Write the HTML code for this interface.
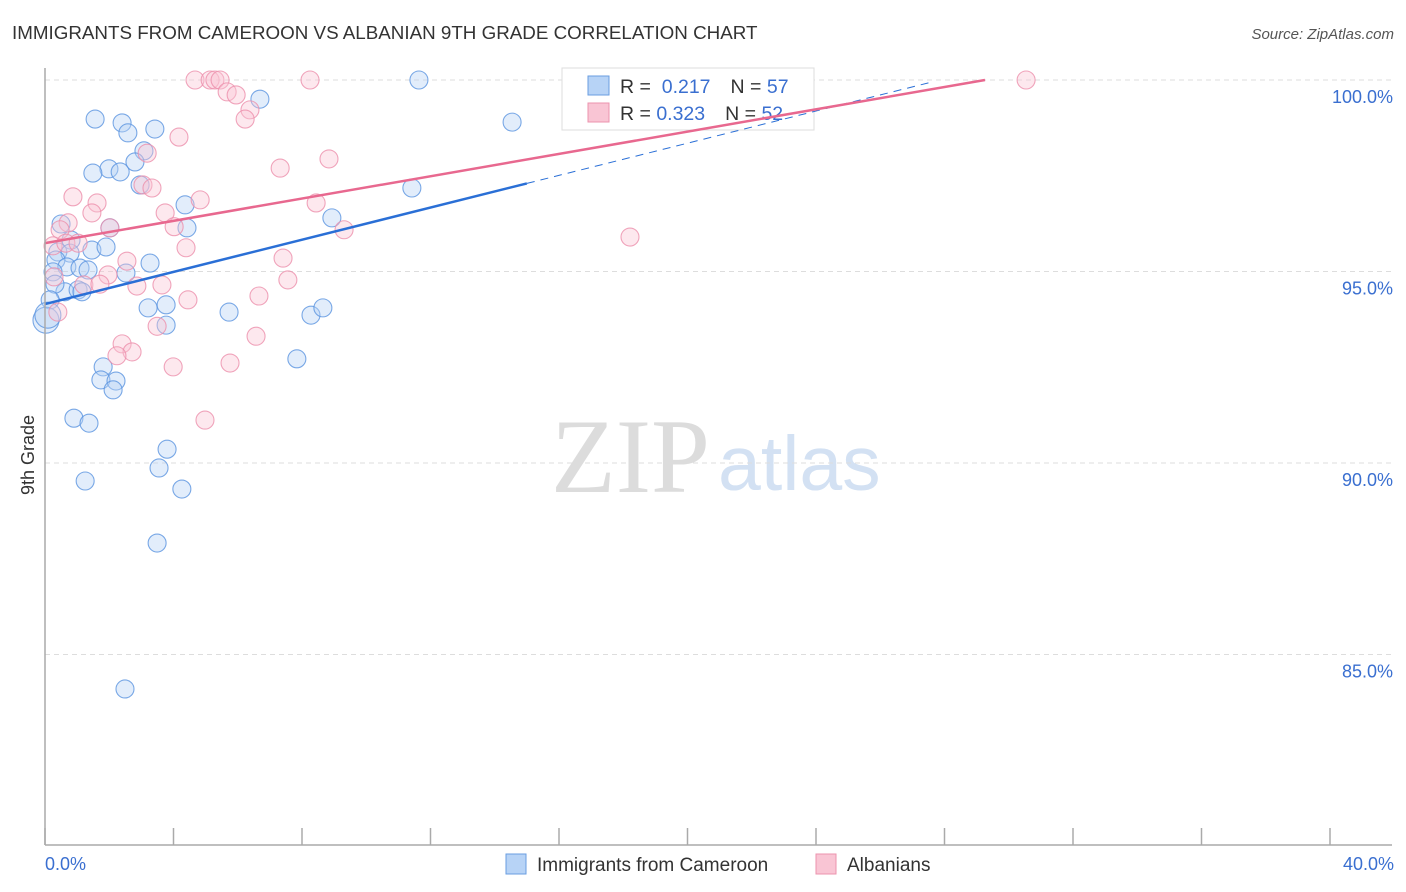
<!DOCTYPE html>
<html><head><meta charset="utf-8"><style>
body{margin:0;background:#fff;font-family:"Liberation Sans",sans-serif}
svg{display:block}
</style></head><body>
<svg id="chart" width="1406" height="892">
<text x="12" y="39" font-size="18.8" fill="#333">IMMIGRANTS FROM CAMEROON VS ALBANIAN 9TH GRADE CORRELATION CHART</text>
<text x="1394" y="39" font-size="15" fill="#555" font-style="italic" text-anchor="end">Source: ZipAtlas.com</text>
<text x="551" y="492" font-size="106" fill="#dcdcdc" font-family="Liberation Serif,serif">ZIP</text>
<text x="718" y="490" font-size="77" fill="#d3e1f3">atlas</text>
<text transform="translate(34,455) rotate(-90)" font-size="18" fill="#333" text-anchor="middle">9th Grade</text>
<g id="grid"></g>
<g>
<rect x="562" y="68" width="252" height="62" fill="#fff" stroke="#ddd"/>
<rect x="588" y="76" width="21" height="19" fill="#b7d3f6" stroke="#6a9ee0"/>
<rect x="588" y="103" width="21" height="19" fill="#f9c5d4" stroke="#ec93ae"/>
<text x="620" y="93" font-size="19.5" fill="#333">R = <tspan fill="#3a6fd0">&#160;0.217</tspan><tspan dx="20">N = </tspan><tspan fill="#3a6fd0">57</tspan></text>
<text x="620" y="120" font-size="19.5" fill="#333">R = <tspan fill="#3a6fd0">0.323</tspan><tspan dx="20">N = </tspan><tspan fill="#3a6fd0">52</tspan></text>
</g>
<g id="marks"></g>
<line x1="45" y1="68" x2="45" y2="845" stroke="#aaa" stroke-width="1.5"/>
<line x1="45" y1="845" x2="1392" y2="845" stroke="#aaa" stroke-width="1.5"/>
<text x="45" y="870" font-size="18" fill="#3a6fd0">0.0%</text>
<text x="1394" y="870" font-size="18" fill="#3a6fd0" text-anchor="end">40.0%</text>
<g>
<rect x="506" y="854" width="20" height="20" fill="#b7d3f6" stroke="#6a9ee0"/>
<text x="537" y="871" font-size="19" fill="#333">Immigrants from Cameroon</text>
<rect x="816" y="854" width="20" height="20" fill="#f9c5d4" stroke="#ec93ae"/>
<text x="847" y="871" font-size="19" fill="#333">Albanians</text>
</g>
</svg>
<script>
const yTicks=[100,95,90,85];
const yTickLabels=["100.0%","95.0%","90.0%","85.0%"];
const xTicks=[0,4,8,12,16,20,24,28,32,36,40];
const blueX=[1.56,2.40,2.58,3.42,3.08,1.99,1.49,2.34,2.80,2.96,4.36,4.42,2.02,0.50,0.81,0.40,0.78,1.46,1.90,3.27,0.34,0.68,1.09,1.34,0.25,2.52,0.62,0.31,1.03,1.15,0.16,0.03,0.09,3.21,3.77,3.77,5.73,8.28,8.65,7.84,1.81,1.74,2.21,2.12,0.90,1.37,3.80,3.55,1.25,4.26,3.49,2.49,6.69,11.64,14.54,11.42,8.93];
const blueY=[98.98,98.88,98.62,98.72,98.15,97.68,97.57,97.60,97.86,97.26,96.74,96.14,96.14,96.24,95.82,95.51,95.48,95.56,95.64,95.22,95.30,95.12,95.09,95.04,94.99,94.96,94.47,94.67,94.52,94.47,94.26,93.73,93.86,94.05,94.13,93.60,93.94,93.86,94.05,92.72,92.51,92.17,92.14,91.91,91.17,91.04,90.36,89.87,89.53,89.32,87.91,84.10,99.50,100.0,98.90,97.18,96.40];
const pinkX=[4.67,5.14,5.29,5.45,8.25,30.54,5.67,5.95,6.38,6.23,4.17,3.18,3.05,3.33,7.32,8.84,0.87,1.62,1.46,4.83,3.74,4.02,2.02,8.44,9.31,18.21,0.72,0.47,0.25,0.65,1.03,4.39,2.55,7.41,0.28,1.96,3.64,1.21,1.71,2.86,7.56,4.45,6.66,0.40,3.49,6.57,2.40,2.71,2.24,3.99,5.76,4.98];
const pinkY=[100.0,100.0,100.0,100.0,100.0,100.0,99.69,99.61,99.22,98.98,98.51,98.09,97.26,97.18,97.70,97.94,96.95,96.79,96.53,96.87,96.53,96.17,96.14,96.79,96.09,95.90,96.27,96.09,95.67,95.74,95.74,95.62,95.27,95.35,94.86,94.91,94.65,94.65,94.67,94.62,94.78,94.26,94.36,93.94,93.57,93.31,93.11,92.90,92.80,92.51,92.61,91.12];
const trendBlue=[94.15,0.21,15.0,27.5];
const trendPink=[95.74,0.1456,29.26];
const X=v=>45+v*32.125, Y=v=>80+(100-v)*38.3;
const NS="http://www.w3.org/2000/svg";
const grid=document.getElementById('grid'), marks=document.getElementById('marks');
function mk(tag,attrs,parent){const e=document.createElementNS(NS,tag);for(const k in attrs)e.setAttribute(k,attrs[k]);parent.appendChild(e);return e;}
yTicks.forEach((t,i)=>{
 const l=mk('line',{x1:45,x2:1392,y1:Y(t),y2:Y(t),stroke:'#ddd','stroke-dasharray':'5,4'},grid);
 
 
 const tx=mk('text',{x:1393,y:Y(t)+23,'font-size':18,fill:'#3a6fd0','text-anchor':'end'},grid);
 tx.textContent=yTickLabels[i];
 
 
});
xTicks.forEach(t=>{
 const l=mk('line',{x1:X(t),x2:X(t),y1:828,y2:845,stroke:'#aaa','stroke-width':1.5},grid);
 
 
});
function pts(xs,ys,fill,stroke,name){
 xs.forEach((x,i)=>{
  const c=mk('circle',{cx:X(x),cy:Y(ys[i]),r:(x<0.1?13:9),fill:fill,'fill-opacity':0.4,stroke:stroke,'stroke-opacity':0.8,'stroke-width':1.1},marks);
  
  
 });
}
pts(blueX,blueY,'#b7d3f6','#5a93e0','point-cameroon');
pts(pinkX,pinkY,'#f9c5d4','#ec8fab','point-albanians');
let l=mk('line',{x1:X(0),y1:Y(trendBlue[0]),x2:X(trendBlue[2]),y2:Y(trendBlue[0]+trendBlue[1]*trendBlue[2]),stroke:'#2a6fd6','stroke-width':2.5},marks);


l=mk('line',{x1:X(trendBlue[2]),y1:Y(trendBlue[0]+trendBlue[1]*trendBlue[2]),x2:X(trendBlue[3]),y2:Y(trendBlue[0]+trendBlue[1]*trendBlue[3]),stroke:'#2a6fd6','stroke-width':1,'stroke-dasharray':'8,6'},marks);


l=mk('line',{x1:X(0),y1:Y(trendPink[0]),x2:X(trendPink[2]),y2:Y(trendPink[0]+trendPink[1]*trendPink[2]),stroke:'#e8688f','stroke-width':2.5},marks);


</script>
</body></html>
